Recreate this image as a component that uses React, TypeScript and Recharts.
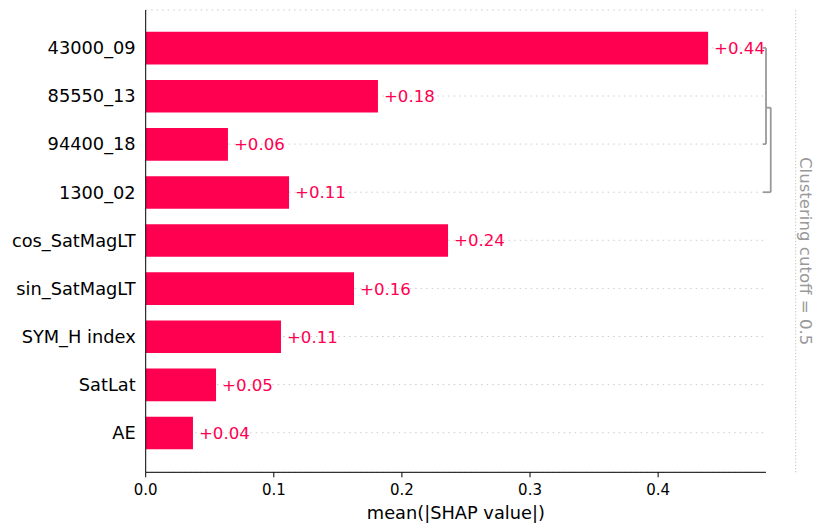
import React from 'react';
import {
  BarChart,
  Bar,
  XAxis,
  YAxis,
  CartesianGrid,
  ReferenceLine,
  LabelList,
  Label,
} from 'recharts';

const features = [
  '43000_09',
  '85550_13',
  '94400_18',
  '1300_02',
  'cos_SatMagLT',
  'sin_SatMagLT',
  'SYM_H index',
  'SatLat',
  'AE',
];
const meanAbsShap = [0.439, 0.1813, 0.0642, 0.1119, 0.236, 0.1626, 0.1056, 0.0549, 0.0369];
const xTicks = [0, 0.1, 0.2, 0.3, 0.4];
const rowTicks = features.map((_, i) => i);

// dendrogram brackets on the right edge: [x, row] pairs
const clusterLinks: [number, number][][] = [
  [[0.4819, 0], [0.4842, 0]],
  [[0.4842, 0], [0.4842, 2]],
  [[0.4842, 2], [0.4819, 2]],
  [[0.4842, 1.243], [0.4879, 1.243]],
  [[0.4879, 1.243], [0.4879, 3]],
  [[0.4879, 3], [0.4819, 3]],
];
const cutoffX = 0.5073;
const cutoffText = 'Clustering cutoff = 0.5';

const RED = '#ff0051';
const FONT = '"DejaVu Sans", sans-serif';

const data = features.map((name, i) => ({ idx: i, name, value: meanAbsShap[i] }));

const CutoffLabel = (props: any) => {
  const vb = props.viewBox ?? {};
  const x = (vb.x ?? 0) + (vb.width ?? 0) / 2 + 4.5;
  const y = (vb.y ?? 0) + (vb.height ?? 0) / 2 + 10;
  return (
    <text
      x={x}
      y={y}
      transform={`rotate(90, ${x}, ${y})`}
      textAnchor="middle"
      fill="#999999"
      fontSize={16.6}
      fontFamily={FONT}
    >
      {cutoffText}
    </text>
  );
};

export default function App() {
  return (
    <div style={{ position: 'absolute', left: 0, top: 0, fontFamily: FONT }}>
      <BarChart
        width={827}
        height={530}
        data={data}
        layout="vertical"
        margin={{ top: 10, right: 61, bottom: 0, left: 0 }}
      >
        <CartesianGrid
          vertical={false}
          stroke="#cccccc"
          strokeDasharray="1.5 4"
          strokeWidth={1}
        />
        <XAxis
          type="number"
          domain={[0, 0.4842]}
          ticks={xTicks}
          tickFormatter={(v: number) => v.toFixed(1)}
          height={57.7}
          tickSize={5}
          tickMargin={7}
          stroke="#000"
          tick={{ fill: '#000', fontSize: 15, fontFamily: FONT }}
          allowDataOverflow
        >
          <Label
            value="mean(|SHAP value|)"
            position="insideBottom"
            offset={10.7}
            fill="#000"
            fontSize={17.8}
            fontFamily={FONT}
          />
        </XAxis>
        <YAxis
          type="number"
          dataKey="idx"
          domain={[-0.788, 8.823]}
          ticks={rowTicks}
          width={145.7}
          tickLine={false}
          tickSize={0}
          tickMargin={10}
          interval={0}
          stroke="#000"
          tickFormatter={(v: number) => features[v] ?? ''}
          tick={{ fill: '#000', fontSize: 17.8, fontFamily: FONT }}
          allowDataOverflow
        />
        <Bar dataKey="value" fill={RED} barSize={32.6} isAnimationActive={false}>
          <LabelList
            dataKey="value"
            position="right"
            offset={6}
            formatter={(v: any) => `+${Number(v).toFixed(2)}`}
            fill={RED}
            fontSize={16.6}
            fontFamily={FONT}
          />
        </Bar>
        {clusterLinks.map((seg, i) => (
          <ReferenceLine
            key={i}
            segment={[
              { x: seg[0][0], y: seg[0][1] },
              { x: seg[1][0], y: seg[1][1] },
            ]}
            stroke="#999999"
            strokeWidth={1.8}
            ifOverflow="visible"
          />
        ))}
        <ReferenceLine
          x={cutoffX}
          stroke="#cccccc"
          strokeWidth={1.2}
          strokeDasharray="1.2 2"
          ifOverflow="visible"
          label={<CutoffLabel />}
        />
      </BarChart>
    </div>
  );
}
